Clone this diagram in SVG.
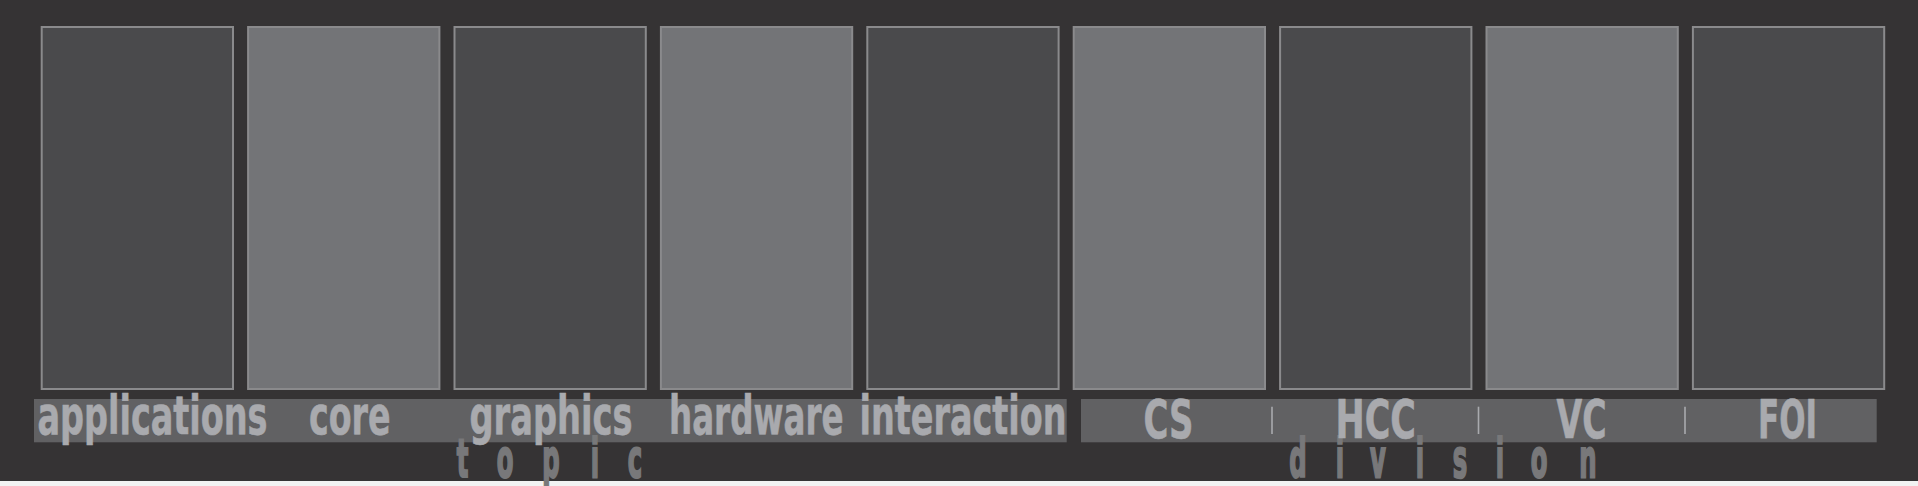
<svg xmlns="http://www.w3.org/2000/svg" width="1918" height="486" viewBox="0 0 1918 486">
<style>
.bg{fill:#353334}
.strip{fill:#f2f2f2}
.col{stroke:#8a8a8c;stroke-width:2}
.dark{fill:#4a4a4c}
.light{fill:#737477}
.bar{fill:#616163}
.lbl{font-family:"DejaVu Sans Condensed","DejaVu Sans",sans-serif;font-weight:bold;font-size:53px;fill:#a9aaae;stroke:#a9aaae;stroke-width:0.6}
.div{font-size:53px}
.sep{stroke:#a9aaae;stroke-width:1.6}
.sub{font-family:"DejaVu Sans Condensed","DejaVu Sans",sans-serif;font-weight:bold;font-size:54px;fill:#78787a;stroke:#78787a;stroke-width:2.2;text-anchor:middle}
</style>
<rect class="strip" x="0" y="0" width="1918" height="486"/>
<rect class="bg" x="0" y="0" width="1918" height="481"/>
<g id="bars">
<rect class="bar" x="34" y="399" width="1032.7" height="43.3"/>
<rect class="bar" x="1081" y="399" width="795.7" height="43.3"/>
</g>
<g id="connectors"/>
<g id="subtitles">
<text class="sub" transform="scale(0.5,1)" y="476.7" x="925 1010 1102 1190 1270">topic</text>
<text class="sub" transform="scale(0.5,1)" y="476.7" x="2596 2680 2756 2840 2920 3000 3078 3176">division</text>
</g>
<g id="separators">
<line class="sep" x1="1272" y1="406.7" x2="1272" y2="434"/>
<line class="sep" x1="1478.5" y1="406.7" x2="1478.5" y2="434"/>
<line class="sep" x1="1685" y1="406.7" x2="1685" y2="434"/>
</g>
<g id="applications"><rect class="col dark" x="41.7" y="27" width="191.3" height="362"/><text class="lbl" x="37.5" y="434" textLength="230" lengthAdjust="spacingAndGlyphs">applications</text></g>
<g id="core"><rect class="col light" x="248.1" y="27" width="191.3" height="362"/><text class="lbl" x="309" y="434" textLength="81.5" lengthAdjust="spacingAndGlyphs">core</text></g>
<g id="graphics"><rect class="col dark" x="454.5" y="27" width="191.3" height="362"/><text class="lbl" x="469.5" y="434" textLength="163" lengthAdjust="spacingAndGlyphs">graphics</text></g>
<g id="hardware"><rect class="col light" x="660.9" y="27" width="191.3" height="362"/><text class="lbl" x="669" y="434" textLength="174.5" lengthAdjust="spacingAndGlyphs">hardware</text></g>
<g id="interaction"><rect class="col dark" x="867.3" y="27" width="191.3" height="362"/><text class="lbl" x="859.5" y="434" textLength="207" lengthAdjust="spacingAndGlyphs">interaction</text></g>
<g id="CS"><rect class="col light" x="1073.7" y="27" width="191.3" height="362"/><text class="lbl div" x="1143.5" y="437.7" textLength="50" lengthAdjust="spacingAndGlyphs">CS</text></g>
<g id="HCC"><rect class="col dark" x="1280.1" y="27" width="191.3" height="362"/><text class="lbl div" x="1335.5" y="437.7" textLength="80.5" lengthAdjust="spacingAndGlyphs">HCC</text></g>
<g id="VC"><rect class="col light" x="1486.5" y="27" width="191.3" height="362"/><text class="lbl div" x="1556.5" y="437.7" textLength="50" lengthAdjust="spacingAndGlyphs">VC</text></g>
<g id="FOI"><rect class="col dark" x="1692.9" y="27" width="191.3" height="362"/><text class="lbl div" x="1758" y="437.7" textLength="59" lengthAdjust="spacingAndGlyphs">FOI</text></g>
</svg>
